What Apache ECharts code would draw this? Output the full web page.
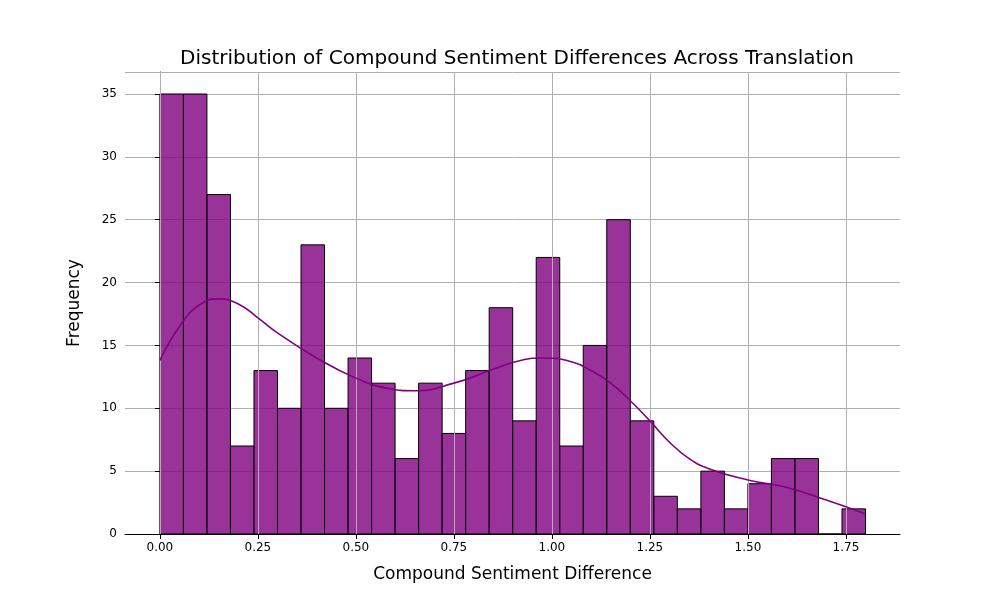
<!DOCTYPE html>
<html style="height: 100%">
<head>
    <meta charset="utf-8">
    <script src="https://cdn.jsdelivr.net/npm/echarts@6/dist/echarts.min.js"></script>
</head>
<body style="height: 100%; margin: 0">
<div id="container" style="width: 1000px; height: 600px"></div>
<script type="text/javascript">
    var binWidth = 0.06;
    var counts = [35, 35, 27, 7, 13, 10, 23, 10, 14, 12, 6, 12, 8, 13, 18, 9, 22, 7, 15, 25, 9, 3, 2, 5, 2, 4, 6, 6, 0, 2];
    var kdeX = [0, 0.05, 0.1, 0.15, 0.2, 0.25, 0.3, 0.4, 0.5, 0.58, 0.65, 0.75, 0.85, 0.92, 0.98, 1.05, 1.1, 1.15, 1.2, 1.25, 1.3, 1.35, 1.4, 1.5, 1.6, 1.7, 1.8];
    var kdeY = [13.8, 16.5, 18.2, 18.7, 18.3, 17.2, 16.0, 14.0, 12.4, 11.6, 11.4, 12.0, 13.1, 13.8, 14.0, 13.7, 13.0, 12.0, 10.6, 9.0, 7.3, 6.0, 5.2, 4.3, 3.7, 2.7, 1.6];
    var xTicks = [0, 0.25, 0.5, 0.75, 1.0, 1.25, 1.5, 1.75];

    var bars = counts.map(function (c, i) { return [i * binWidth, (i + 1) * binWidth, c]; });
    var kde = kdeX.map(function (x, i) { return [x, kdeY[i]]; });

    var myChart = echarts.init(document.getElementById('container'));
    var option = {
        animation: false,
        title: {
            text: 'Distribution of Compound Sentiment Differences Across Translation',
            left: 512, top: 44, textAlign: 'center',
            textStyle: { fontFamily: 'DejaVu Sans', fontSize: 20, fontWeight: 'normal', color: '#000' }
        },
        grid: { left: 125, right: 100, top: 72, bottom: 66 },
        xAxis: {
            type: 'value', min: -0.089, max: 1.888,
            name: 'Compound Sentiment Difference', nameLocation: 'middle', nameGap: 32,
            nameTextStyle: { fontFamily: 'DejaVu Sans', fontSize: 17, color: '#000' },
            axisLine: { onZero: false, lineStyle: { color: '#000' } },
            axisTick: { customValues: xTicks, lineStyle: { color: '#000' } },
            axisLabel: { customValues: xTicks, color: '#000', fontFamily: 'DejaVu Sans', fontSize: 12,
                formatter: function (v) { return v.toFixed(2); } },
            splitLine: { show: false }
        },
        yAxis: {
            type: 'value', min: 0, max: 36.75, interval: 5,
            name: 'Frequency', nameLocation: 'middle', nameGap: 42,
            nameTextStyle: { fontFamily: 'DejaVu Sans', fontSize: 17, color: '#000' },
            axisLine: { show: true, lineStyle: { color: '#000' } },
            axisTick: { show: true, lineStyle: { color: '#000' } },
            axisLabel: { color: '#000', fontFamily: 'DejaVu Sans', fontSize: 12, showMaxLabel: false },
            splitLine: { lineStyle: { color: '#b0b0b0', width: 1 } }
        },
        series: [{
            type: 'line', data: [], silent: true,
            markLine: {
                silent: true, symbol: 'none', label: { show: false },
                lineStyle: { color: '#b0b0b0', type: 'solid', width: 1 },
                data: xTicks.map(function (v) { return { xAxis: v }; })
            }
        }, {
            type: 'custom', data: bars,
            renderItem: function (params, api) {
                var p0 = api.coord([api.value(0), api.value(2)]);
                var p1 = api.coord([api.value(1), 0]);
                return {
                    type: 'rect',
                    shape: { x: p0[0], y: p0[1], width: p1[0] - p0[0], height: p1[1] - p0[1] },
                    style: { fill: 'rgba(128,0,128,0.8)', stroke: '#000', lineWidth: 1 }
                };
            }
        }, {
            type: 'line', data: kde, smooth: true, showSymbol: false,
            lineStyle: { color: '#800080', width: 1.6 }, z: 5
        }]
    };
    myChart.setOption(option);
</script>
</body>
</html>
